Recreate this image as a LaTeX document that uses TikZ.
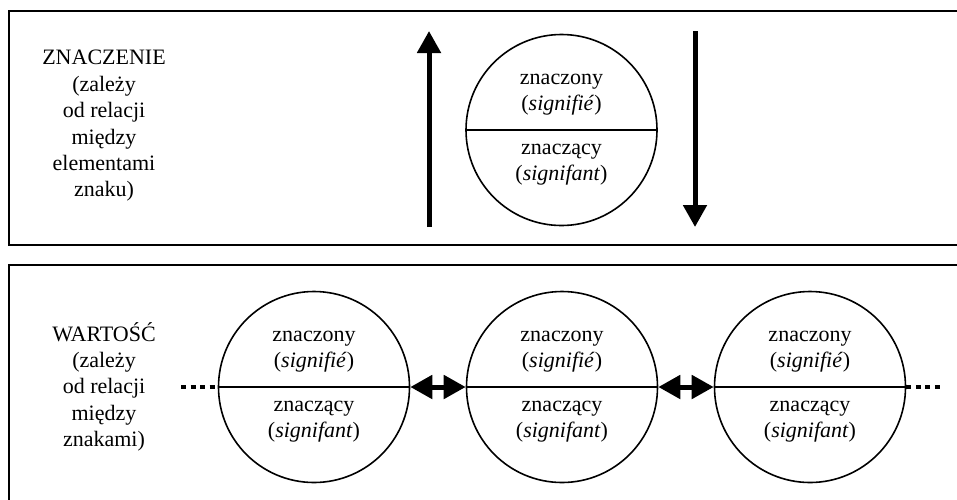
\documentclass[tikz,border=0pt]{standalone}
\usepackage{fontspec}
\setmainfont{Liberation Serif}
\usetikzlibrary{arrows.meta}

\tikzset{
  panel/.style={draw, line width=2pt},
  sign/.style={circle, draw, line width=1.6pt, minimum size=191pt, inner sep=0pt},
  bar/.style={line width=1.3pt},
  label/.style={align=center, inner sep=0pt,
                font=\fontsize{22}{26.4}\selectfont},
  bigtip/.tip={Triangle[length=22pt, width=23pt]},
  flow/.style={line width=5pt, -bigtip},
  relation/.style={line width=5pt, bigtip-bigtip},
  continued/.style={line width=4.5pt, dash pattern=on 5pt off 4.5pt},
}

% one sign: circle split by a bar, signified above, signifier below
\newcommand{\signcircle}[2]{%
  \node[sign] (#1) at (#2) {};
  \draw[bar] (#1.west) -- (#1.east);
  \node[label] (#1-top) at ([yshift=38pt]#1.center)
    {\strut znaczony\\\strut(\textit{signifié})};
  \node[label] (#1-bottom) at ([yshift=-32pt]#1.center)
    {\strut znaczący\\\strut(\textit{signifant})};
}

\begin{document}
\begin{tikzpicture}[x=1pt, y=-1pt]
  \useasboundingbox (0,0) rectangle (957,499);
  \clip (0,0) rectangle (957,499);
  \fill[white] (0,0) rectangle (957,499);

  % panels
  \draw[panel] (9,11) rectangle (975,245);
  \draw[panel] (9,265) rectangle (975,520);

  % meaning: relation inside one sign
  \node[label] (meaning) at (104,125.7)
    {\strut ZNACZENIE\\\strut(zależy\\\strut od relacji\\\strut między\\\strut elementami\\\strut znaku)};
  \signcircle{s0}{561.5,130}
  \coordinate (up-from) at (429,227);
  \coordinate (up-to) at (429,31);
  \coordinate (down-from) at (695,31);
  \coordinate (down-to) at (695,227);
  \draw[flow] (up-from) -- (up-to);
  \draw[flow] (down-from) -- (down-to);

  % value: relations between signs
  \node[label] (value) at (104,388.5)
    {\strut WARTOŚĆ\\\strut(zależy\\\strut od relacji\\\strut między\\\strut znakami)};
  \signcircle{s1}{314,387}
  \signcircle{s2}{562,387}
  \signcircle{s3}{810,387}
  \draw[relation] (s1.east) -- (s2.west);
  \draw[relation] (s2.east) -- (s3.west);
  \coordinate (more-left) at (181,387);
  \coordinate (more-right) at (944,387);
  \draw[continued] (more-left) -- (s1.west);
  \draw[continued] (s3.east) -- (more-right);
\end{tikzpicture}
\end{document}
